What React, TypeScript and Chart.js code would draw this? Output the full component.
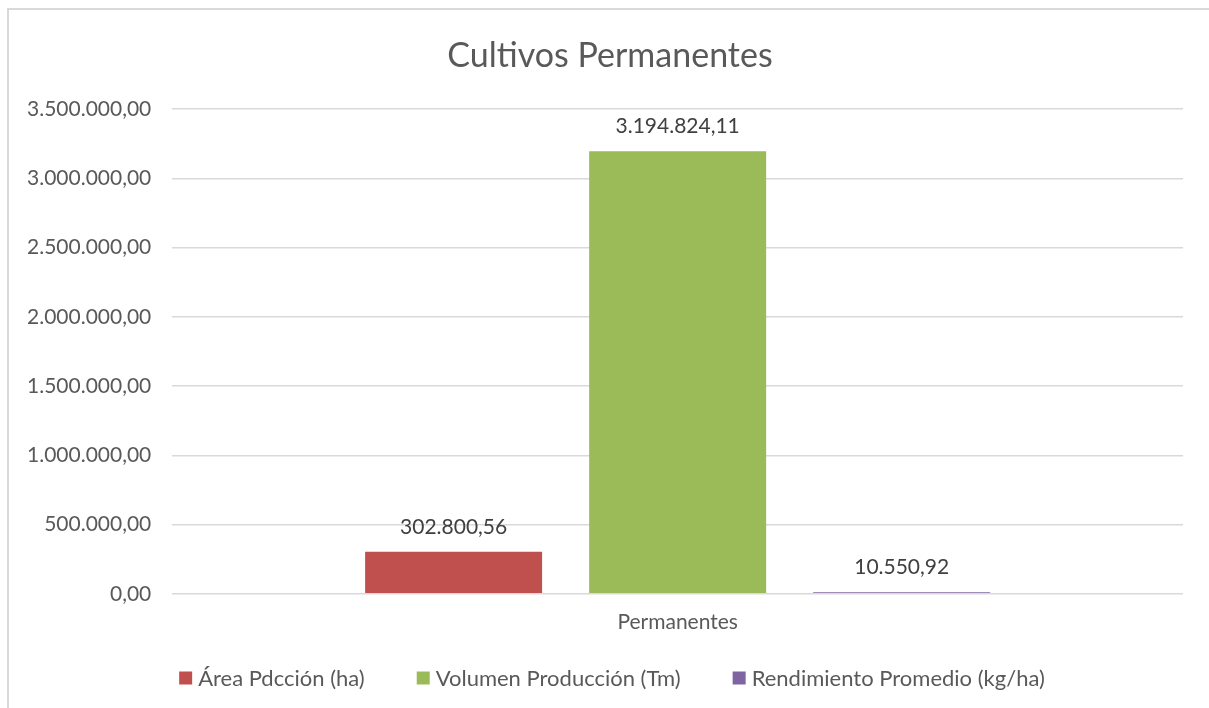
import React, { useEffect, useRef } from "react";
import { Chart, registerables } from "chart.js";

Chart.register(...registerables);

const chartTitle = "Cultivos Permanentes";
const categories = ["Permanentes"];
const seriesLabels = ["Área Pdcción (ha)", "Volumen Producción (Tm)", "Rendimiento Promedio (kg/ha)"];
const areaValues = [302800.56];
const volumenValues = [3194824.11];
const rendimientoValues = [10550.92];
const seriesColors = ["#C0504D", "#9BBB59", "#8064A2"];
const yMin = 0;
const yMax = 3500000;
const yStep = 500000;

const FONT = "Lato, 'Open Sans', sans-serif";

function fmt(v: number): string {
  const neg = v < 0;
  const fixed = Math.abs(v).toFixed(2);
  const [intPart, dec] = fixed.split(".");
  const withSep = intPart.replace(/\B(?=(\d{3})+(?!\d))/g, ".");
  return (neg ? "-" : "") + withSep + "," + dec;
}

const framePlugin = {
  id: "frame",
  beforeDraw(chart: any) {
    const { ctx, width, height } = chart;
    ctx.save();
    ctx.fillStyle = "#ffffff";
    ctx.fillRect(0, 0, width, height);
    ctx.strokeStyle = "#d9d9d9";
    ctx.lineWidth = 2;
    ctx.beginPath();
    ctx.moveTo(8, height);
    ctx.lineTo(8, 9);
    ctx.lineTo(width, 9);
    ctx.stroke();
    // title
    ctx.font = `34px ${FONT}`;
    ctx.fillStyle = "#595959";
    ctx.textAlign = "center";
    ctx.textBaseline = "middle";
    ctx.fillText(chartTitle, 610, 56);
    ctx.restore();
  },
};

const dataLabelPlugin = {
  id: "dataLabels",
  afterDatasetsDraw(chart: any) {
    const { ctx } = chart;
    ctx.save();
    ctx.font = `21px ${FONT}`;
    ctx.fillStyle = "#404040";
    ctx.textAlign = "center";
    ctx.textBaseline = "middle";
    chart.data.datasets.forEach((ds: any, i: number) => {
      const meta = chart.getDatasetMeta(i);
      meta.data.forEach((bar: any, j: number) => {
        ctx.fillText(fmt(ds.data[j]), bar.x, bar.y - 25);
      });
    });
    ctx.restore();
  },
};

const legendPlugin = {
  id: "customLegend",
  afterDraw(chart: any) {
    const { ctx } = chart;
    ctx.save();
    ctx.font = `22px ${FONT}`;
    ctx.textBaseline = "middle";
    ctx.textAlign = "left";
    const box = 13;
    const gapBoxText = 6;
    const gapItems = 52;
    const items = chart.data.datasets.map((ds: any) => ({
      label: ds.label,
      color: ds.backgroundColor,
      w: ctx.measureText(ds.label).width,
    }));
    const total =
      items.reduce((s: number, it: any) => s + box + gapBoxText + it.w, 0) +
      gapItems * (items.length - 1);
    const centerX = 612;
    const y = 678;
    let x = centerX - total / 2;
    items.forEach((it: any) => {
      ctx.fillStyle = it.color;
      ctx.fillRect(x, y - box / 2, box, box);
      x += box + gapBoxText;
      ctx.fillStyle = "#595959";
      ctx.fillText(it.label, x, y + 1);
      x += it.w + gapItems;
    });
    ctx.restore();
  },
};

export default function App() {
  const ref = useRef<HTMLCanvasElement | null>(null);
  useEffect(() => {
    if (!ref.current) return;
    const chart = new Chart(ref.current, {
      type: "bar",
      data: {
        labels: categories,
        datasets: [
          { label: seriesLabels[0], data: areaValues, backgroundColor: seriesColors[0] },
          { label: seriesLabels[1], data: volumenValues, backgroundColor: seriesColors[1] },
          { label: seriesLabels[2], data: rendimientoValues, backgroundColor: seriesColors[2] },
        ],
      },
      options: {
        animation: false,
        responsive: false,
        maintainAspectRatio: false,
        layout: { padding: { left: 6, right: 26, top: 109, bottom: 57 } },
        datasets: {
          bar: { categoryPercentage: 0.665, barPercentage: 0.79 },
        },
        plugins: {
          legend: { display: false },
          tooltip: { enabled: false },
          title: { display: false },
        },
        scales: {
          x: {
            grid: { display: false, drawTicks: false },
            border: { display: false },
            ticks: {
              color: "#595959",
              font: { family: FONT, size: 21 },
              padding: 16,
            },
          },
          y: {
            min: yMin,
            max: yMax,
            grid: { color: "#d9d9d9", lineWidth: 1.5, drawTicks: false },
            border: { display: false },
            ticks: {
              stepSize: yStep,
              color: "#595959",
              font: { family: FONT, size: 21 },
              padding: 21,
              callback: (v: any) => fmt(Number(v)),
            },
          },
        },
      },
      plugins: [framePlugin, dataLabelPlugin, legendPlugin],
    });
    return () => chart.destroy();
  }, []);
  return (
    <div style={{ position: "fixed", left: 0, top: 0, width: 1209, height: 708 }}>
      <canvas ref={ref} width={1209} height={708} style={{ display: "block" }} />
    </div>
  );
}
